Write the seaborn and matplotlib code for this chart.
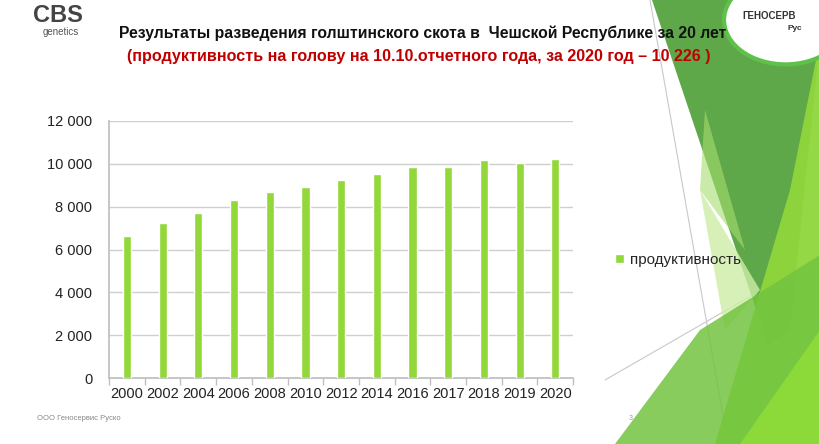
import matplotlib
matplotlib.use("Agg")
import matplotlib.pyplot as plt
import seaborn as sns
import pandas as pd
import numpy as np
from matplotlib.patches import Polygon, Ellipse
from matplotlib.lines import Line2D
from matplotlib.ticker import FuncFormatter, FixedLocator

years = ["2000", "2002", "2004", "2006", "2008", "2010", "2012",
         "2014", "2016", "2017", "2018", "2019", "2020"]
productivity = [6650, 7230, 7690, 8300, 8690, 8900, 9220,
                9530, 9860, 9860, 10160, 10020, 10226]
series_name = "продуктивность"

title = "Результаты разведения голштинского скота в  Чешской Республике за 20 лет"
subtitle = "(продуктивность на голову на 10.10.отчетного года, за 2020 год – 10 226 )"

df = pd.DataFrame({"year": years, "value": productivity})

sns.set_theme(style="white")
plt.rcParams["font.family"] = ["Liberation Sans", "DejaVu Sans"]

W, H = 820, 444
fig = plt.figure(figsize=(8.2, 4.44), dpi=100)
fig.patch.set_facecolor("white")


def px(pts):
    # slide pixel coords (from top-left) -> figure fraction
    return [(x / W, 1 - y / H) for x, y in pts]


# green decorative shapes of the slide template
decor = [
    ([(652, 0), (820, 0), (820, 40), (790, 330), (768, 345)], "#4c9f36", 0.9),
    ([(820, 40), (820, 444), (715, 444), (790, 190)], "#8fd63c", 0.95),
    ([(700, 190), (760, 290), (725, 330)], "#cdeda6", 0.8),
    ([(705, 110), (745, 250), (700, 190)], "#a6dc6e", 0.6),
    ([(615, 444), (820, 444), (820, 255), (700, 330)], "#72c43f", 0.85),
    ([(740, 444), (820, 444), (820, 330)], "#8fdc3a", 0.9),
]
for pts, col, a in decor:
    fig.patches.append(Polygon(px(pts), closed=True, transform=fig.transFigure,
                               facecolor=col, alpha=a, edgecolor="none", zorder=0))
for (x0, y0), (x1, y1) in [((650, 0), (728, 444)), ((605, 380), (770, 285))]:
    (a0, b0), (a1, b1) = px([(x0, y0), (x1, y1)])
    fig.lines.append(Line2D([a0, a1], [b0, b1], transform=fig.transFigure,
                            color="#c8c8c8", linewidth=0.8, zorder=0))

ax = fig.add_axes([0.133, 0.148, 0.566, 0.58])
ax.set_zorder(3)
ax.set_facecolor("none")
sns.barplot(data=df, x="year", y="value", color="#92d83a", width=0.23,
            saturation=1, ax=ax, label=series_name, zorder=3)

ax.set_ylim(0, 12000)
ax.set_yticks(np.arange(0, 12001, 2000))
ax.yaxis.set_major_formatter(FuncFormatter(lambda v, p: f"{int(v):,}".replace(",", " ")))
ax.grid(axis="y", color="#cfcfcf", linewidth=1, zorder=0)
ax.set_xlabel("")
ax.set_ylabel("")
for s in ["top", "right"]:
    ax.spines[s].set_visible(False)
ax.spines["left"].set_color("#bfbfbf")
ax.spines["bottom"].set_color("#bfbfbf")
ax.set_xlim(-0.5, len(years) - 0.5)
ax.xaxis.set_minor_locator(FixedLocator(np.arange(-0.5, len(years), 1)))
ax.tick_params(axis="x", which="major", length=0, labelsize=10.5, pad=6, colors="#222222")
ax.tick_params(axis="x", which="minor", length=5, color="#bfbfbf", bottom=True)
ax.tick_params(axis="y", length=0, labelsize=10.5, pad=12, colors="#222222")

leg = ax.legend(loc="center left", bbox_to_anchor=(1.06, 0.46), frameon=False,
                fontsize=11, handlelength=0.6, handleheight=0.6, handletextpad=0.4)

fig.text(0.516, 0.925, title, ha="center", va="center", fontsize=11.3,
         fontweight="bold", color="#111111")
fig.text(0.511, 0.872, subtitle, ha="center", va="center", fontsize=11.6,
         fontweight="bold", color="#c00000")

# logos approximated with text
fig.text(0.04, 0.965, "CBS", ha="left", va="center", fontsize=17,
         color="#444444", fontweight="bold")
fig.text(0.052, 0.928, "genetics", ha="left", va="center", fontsize=7, color="#555555")
fig.patches.append(Ellipse((0.958, 0.955), 0.15, 0.2, transform=fig.transFigure,
                           facecolor="white", edgecolor="#5ec24a", linewidth=3, zorder=1))
fig.text(0.905, 0.965, "ГЕНОСЕРВ", ha="left", va="center", fontsize=7,
         fontweight="bold", color="#333333", zorder=2)
fig.text(0.96, 0.935, "Рус", ha="left", va="center", fontsize=6,
         fontweight="bold", color="#333333", zorder=2)

fig.text(0.045, 0.058, "ООО Геносервис Руско", ha="left", va="center",
         fontsize=5.5, color="#888888")
fig.text(0.767, 0.058, "3", ha="left", va="center", fontsize=5, color="#999999")

fig.savefig("out.png", dpi=100)
